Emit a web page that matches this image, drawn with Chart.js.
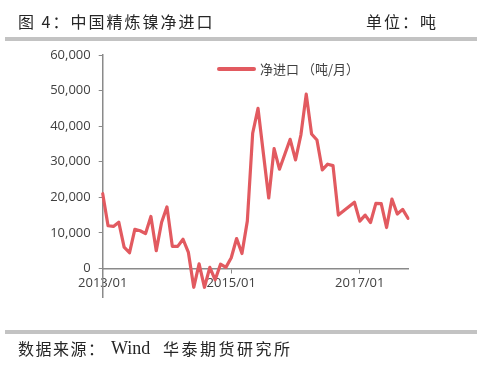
<!DOCTYPE html>
<html><head><meta charset="utf-8">
<script src="https://cdn.jsdelivr.net/npm/chart.js@4.4.1/dist/chart.umd.min.js"></script>
<style>
html,body{margin:0;padding:0;background:#fff;}
#wrap{position:relative;width:500px;height:371px;overflow:hidden;background:#fff;}
#c{position:absolute;left:0;top:0;}
.t{position:absolute;white-space:nowrap;color:#262626;font-family:"Noto Sans CJK SC","Noto Sans",sans-serif;line-height:1;}
.bar{position:absolute;left:5px;width:472px;height:4px;background:#c3c3c3;}
#mask{position:absolute;left:0;top:298px;width:500px;height:32px;background:#fff;}
</style></head>
<body>
<div id="wrap">
<canvas id="c" width="500" height="371"></canvas>
<div id="mask"></div>
<div class="t" style="left:18px;top:13px;font-size:16px;letter-spacing:2px;">图 4：中国精炼镍净进口</div>
<div class="t" style="left:366px;top:13px;font-size:16px;letter-spacing:2px;">单位：吨</div>
<div class="bar" style="top:37px;"></div>
<div class="bar" style="top:330px;"></div>
<div class="t" style="left:18px;top:340px;font-size:16px;letter-spacing:1.5px;">数据来源：</div>
<div class="t" style="left:111px;top:339px;font-size:18px;font-family:'Liberation Serif',serif;">Wind</div>
<div class="t" style="left:163px;top:340px;font-size:16px;letter-spacing:2.5px;">华泰期货研究所</div>
</div>
<script>
const months = ['2013/01','2013/02','2013/03','2013/04','2013/05','2013/06','2013/07','2013/08','2013/09','2013/10','2013/11','2013/12',
'2014/01','2014/02','2014/03','2014/04','2014/05','2014/06','2014/07','2014/08','2014/09','2014/10','2014/11','2014/12',
'2015/01','2015/02','2015/03','2015/04','2015/05','2015/06','2015/07','2015/08','2015/09','2015/10','2015/11','2015/12',
'2016/01','2016/02','2016/03','2016/04','2016/05','2016/06','2016/07','2016/08','2016/09','2016/10','2016/11','2016/12',
'2017/01','2017/02','2017/03','2017/04','2017/05','2017/06','2017/07','2017/08','2017/09','2017/10'];
const netImports = [21000,12000,11800,13000,6000,4400,11000,10600,9800,14600,5000,13000,
17300,6200,6200,8200,4500,-5300,1300,-5300,300,-3200,1200,300,
3000,8400,4200,13300,38000,45000,32300,19800,33700,27900,32100,36300,
30500,37500,49000,37800,36100,27700,29300,28900,15000,16200,17400,18600,
13300,15000,12900,18300,18200,11500,19500,15300,16600,14100];
const xTickLabels = ['2013/01','2015/01','2017/01'];
const yTicks = [-10000,0,10000,20000,30000,40000,50000,60000];
const seriesName = '净进口 （吨/月）';
const lineColor = '#e25a60';

const legendPlugin = {
  id: 'customLegend',
  afterDraw(chart) {
    const ctx = chart.ctx;
    const ds = chart.data.datasets[0];
    ctx.save();
    ctx.strokeStyle = ds.borderColor;
    ctx.lineWidth = 4;
    ctx.lineCap = 'round';
    ctx.beginPath();
    ctx.moveTo(219, 69);
    ctx.lineTo(254, 69);
    ctx.stroke();
    ctx.fillStyle = '#404040';
    ctx.font = '13px "Noto Sans CJK SC"';
    ctx.textBaseline = 'middle';
    ctx.fillText(ds.label, 260, 69);
    ctx.restore();
  }
};

new Chart(document.getElementById('c'), {
  type: 'line',
  data: {
    labels: months,
    datasets: [{
      label: seriesName,
      data: netImports,
      borderColor: lineColor,
      backgroundColor: lineColor,
      borderWidth: 3.2,
      pointRadius: 0,
      tension: 0,
      borderJoinStyle: 'round',
      borderCapStyle: 'round'
    }]
  },
  options: {
    responsive: false,
    animation: false,
    events: [],
    layout: { padding: { left: 0, top: 55, right: 92, bottom: 67 } },
    plugins: { legend: { display: false }, tooltip: { enabled: false } },
    scales: {
      x: {
        type: 'category',
        position: { y: 0 },
        offset: false,
        grid: { display: true, drawOnChartArea: false, drawTicks: true, tickLength: 4, color: '#8a8a8a' },
        border: { display: true, color: '#8a8a8a', width: 1.5 },
        ticks: {
          autoSkip: false, maxRotation: 0, padding: 3,
          color: '#404040', font: { family: 'Open Sans', size: 13 },
          callback: function(v) { const l = this.getLabelForValue(v); return xTickLabels.includes(l) ? l : null; }
        }
      },
      y: {
        min: yTicks[0], max: yTicks[yTicks.length - 1],
        afterFit(scale) { scale.width = 102.7; },
        afterBuildTicks(scale) { scale.ticks = yTicks.map(v => ({ value: v })); },
        grid: { display: true, drawOnChartArea: false, drawTicks: true, tickLength: 4, color: '#8a8a8a' },
        border: { display: true, color: '#8a8a8a', width: 1.5 },
        ticks: {
          padding: 8, color: '#404040', font: { family: 'Open Sans', size: 13 },
          callback: v => v.toLocaleString('en-US')
        }
      }
    }
  },
  plugins: [legendPlugin]
});
</script>
</body></html>
